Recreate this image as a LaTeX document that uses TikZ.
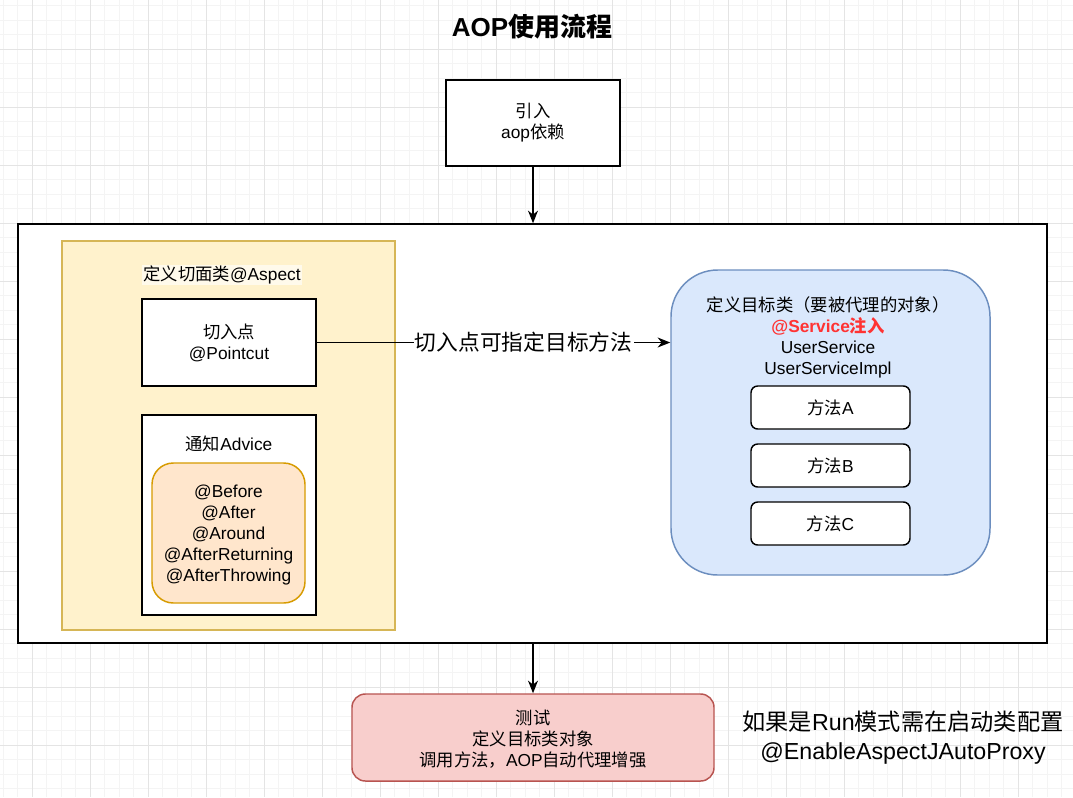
\documentclass[tikz,border=0pt]{standalone}
\usepackage{fontspec}
\setmainfont{Liberation Sans}
\newfontfamily\cjk{Noto Sans CJK SC}
\newcommand\zh[1]{{\cjk #1}}
\usetikzlibrary{arrows.meta,fit}
\definecolor{yfill}{HTML}{FFF2CC}\definecolor{ystroke}{HTML}{D6B656}
\definecolor{ofill}{HTML}{FFE6CC}\definecolor{ostroke}{HTML}{D79B00}
\definecolor{bfill}{HTML}{DAE8FC}\definecolor{bstroke}{HTML}{6C8EBF}
\definecolor{rfill}{HTML}{F8CECC}\definecolor{rstroke}{HTML}{B85450}
\definecolor{redtext}{HTML}{FF3333}
\definecolor{gridminor}{HTML}{F4F4F4}\definecolor{gridmajor}{HTML}{E4E4E4}
\newcommand\fs{\fontsize{13}{15.7}\selectfont}
\newcommand\fl{\fontsize{17.4}{21}\selectfont}
\tikzset{
  base/.style={inner sep=0pt, align=center, font=\fs, line width=1.1pt},
  plainbox/.style={base, draw=black, fill=white},
  arr/.style={line width=1.1pt, -{Stealth[length=9.5pt,width=7.5pt,inset=3pt]}},
  txt/.style={inner sep=0pt, align=center, font=\fs}
}
\begin{document}
\begin{tikzpicture}[x=0.75pt,y=-0.75pt]
\useasboundingbox (0,0) rectangle (1073,797);
\fill[white] (0,0) rectangle (1073,797);
% grid
\foreach \gx in {3.3,17.8,...,1073} \draw[gridminor,line width=0.75pt] (\gx,0) -- (\gx,797);
\foreach \gy in {5.8,20.3,...,797} \draw[gridminor,line width=0.75pt] (0,\gy) -- (1073,\gy);
\foreach \gx in {32.3,90.3,...,1073} \draw[gridmajor,line width=0.75pt] (\gx,0) -- (\gx,797);
\foreach \gy in {49.3,107.3,...,797} \draw[gridmajor,line width=0.75pt] (0,\gy) -- (1073,\gy);

% title
\node[txt, font=\fontsize{19.5}{23}\selectfont\bfseries] (title) at (532,27) {AOP\zh{使用流程}};

% top box
\node[plainbox, fit={(446,80)(620,166)}] (top) {};
\node[txt] (toptxt) at (top.center) {\zh{引入}\\aop\zh{依赖}};

% container
\node[plainbox, fit={(18,224)(1047,643)}] (cont) {};

% yellow panel
\node[base, draw=ystroke, fill=yfill, fit={(62,241)(395,630)}] (aspect) {};
\node[txt, fill=white!60!yfill, inner xsep=1pt, inner ysep=1pt] (aspecttxt) at (222,275) {\zh{定义切面类}@Aspect};

% pointcut
\node[plainbox, fit={(142,299)(316,386)}] (pc) {};
\node[txt] (pctxt) at (pc.center) {\zh{切入点}\\@Pointcut};

% advice
\node[plainbox, fit={(142,415)(316,615)}] (adv) {};
\node[txt] (advtxt) at (229,444) {\zh{通知}Advice};
\node[base, draw=ostroke, fill=ofill, rounded corners=16pt, fit={(152,463)(305,603)}] (advlist) {};
\node[txt] (advlisttxt) at ([yshift=-1.5pt]advlist.center) {@Before\\@After\\@Around\\@AfterReturning\\@AfterThrowing};

% blue target
\node[base, draw=bstroke, fill=bfill, rounded corners=35pt, fit={(671,270)(990,575)}] (target) {};
\node[txt] (targettxt) at (828,337) {\zh{定义目标类（要被代理的对象）}\\
  {\color{redtext}\bfseries @Service\zh{注入}}\\UserService\\UserServiceImpl};
\node[plainbox, rounded corners=5pt, fit={(751,386)(910,429)}] (ma) {};
\node[txt] (matxt) at (ma.center) {\zh{方法}A};
\node[plainbox, rounded corners=5pt, fit={(751,444)(910,487)}] (mb) {};
\node[txt] (mbtxt) at (mb.center) {\zh{方法}B};
\node[plainbox, rounded corners=5pt, fit={(751,502)(910,545)}] (mc) {};
\node[txt] (mctxt) at (mc.center) {\zh{方法}C};

% test
\node[base, draw=rstroke, fill=rfill, rounded corners=10pt, fit={(352,694)(714,781)}] (test) {};
\node[txt] (testtxt) at ([yshift=-1pt]test.center) {\zh{测试}\\\zh{定义目标类对象}\\\zh{调用方法，}AOP\zh{自动代理增强}};

% note
\node[txt, font=\fl] (note) at (903,737.5) {\zh{如果是}Run\zh{模式需在启动类配置}\\[1pt]@EnableAspectJAutoProxy};

% connectors
\draw[arr] (top.south) -- (top.south |- cont.north);
\draw[arr] (cont.south -| test.north) -- (test.north);
\draw[arr] (pc.east) -- node[pos=0.585, fill=white, inner sep=1pt, font=\fontsize{16.3}{19}\selectfont] (lbl) {\zh{切入点可指定目标方法}} (pc.east -| target.west);
\end{tikzpicture}
\end{document}
